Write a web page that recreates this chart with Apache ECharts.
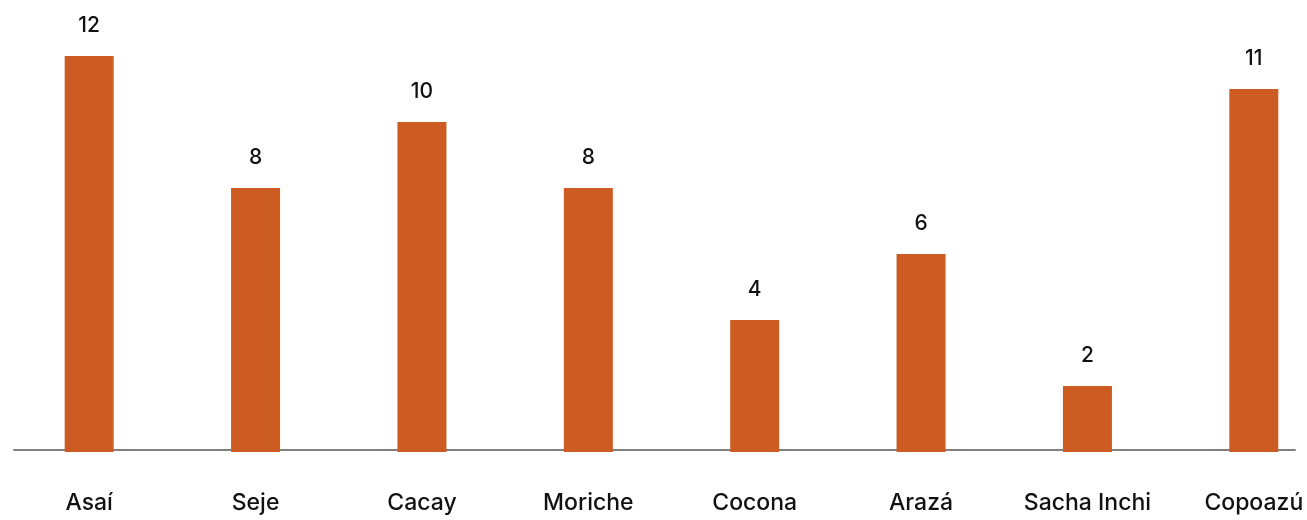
<!DOCTYPE html>
<html>
<head>
<meta charset="utf-8">
<style>
  html, body { margin: 0; padding: 0; background: #fff; }
  #chart { width: 1307px; height: 520px; }
</style>
<script src="https://cdn.jsdelivr.net/npm/echarts@6/dist/echarts.min.js"></script>
</head>
<body>
<div id="chart"></div>
<script>
// frutos amazónicos
var frutos = ['Asaí', 'Seje', 'Cacay', 'Moriche', 'Cocona', 'Arazá', 'Sacha Inchi', 'Copoazú'];
var cantidad = [12, 8, 10, 8, 4, 6, 2, 11];

var myChart = echarts.init(document.getElementById('chart'));
var fuente = 'Inter, "Noto Sans", sans-serif';

var option = {
    animation: false,
    grid: [
        // barras (la ultima categoria se sale del lienzo)
        { left: 6, width: 1331, top: 23, bottom: 68, outerBoundsMode: 'none', containLabel: false },
        // solo para la linea del eje
        { left: 14, right: 12, top: 23, bottom: 70, outerBoundsMode: 'none', containLabel: false }
    ],
    xAxis: [{
        type: 'category',
        gridIndex: 0,
        data: frutos,
        axisLine: { show: false },
        axisTick: { show: false },
        axisLabel: {
            interval: 0,
            hideOverlap: false,
            margin: 40,
            color: '#111',
            fontSize: 23,
            fontWeight: 500,
            fontFamily: fuente
        }
    }, {
        type: 'value',
        gridIndex: 1,
        axisLine: { show: true, onZero: false, lineStyle: { color: '#808080', width: 2 } },
        axisTick: { show: false },
        axisLabel: { show: false },
        splitLine: { show: false }
    }],
    yAxis: [{
        type: 'value',
        gridIndex: 0,
        min: 0,
        max: 13,
        show: false
    }, {
        type: 'value',
        gridIndex: 1,
        show: false
    }],
    series: [{
        type: 'bar',
        xAxisIndex: 0,
        yAxisIndex: 0,
        data: cantidad,
        barWidth: 49,
        itemStyle: { color: '#CD5C22' },
        label: {
            show: true,
            position: 'top',
            distance: 20,
            color: '#111',
            fontSize: 21,
            fontWeight: 500,
            fontFamily: fuente
        }
    }]
};
myChart.setOption(option);

window.addEventListener('resize', function () {
    myChart.resize();
});
</script>
</body>
</html>
